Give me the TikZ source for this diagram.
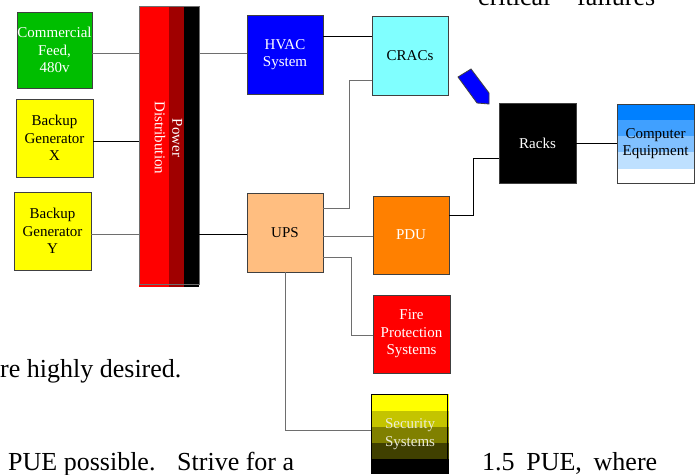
\documentclass[tikz,border=0pt]{standalone}
\usepackage{fontspec}
\setmainfont{Liberation Serif}
\definecolor{cgreen}{RGB}{0,190,0}
\definecolor{cyellow}{RGB}{255,255,0}
\definecolor{cred}{RGB}{255,0,0}
\definecolor{cdred}{RGB}{160,0,0}
\definecolor{cblue}{RGB}{0,0,255}
\definecolor{ccyan}{RGB}{128,255,255}
\definecolor{cups}{RGB}{255,190,128}
\definecolor{corange}{RGB}{255,128,0}
\definecolor{cborder}{RGB}{64,64,64}
\definecolor{cwire}{RGB}{110,110,110}
\definecolor{cb1}{RGB}{0,128,255}
\definecolor{cb2}{RGB}{64,160,255}
\definecolor{cb3}{RGB}{128,192,255}
\definecolor{cb4}{RGB}{190,224,255}
\definecolor{cy2}{RGB}{196,196,0}
\definecolor{cy3}{RGB}{128,128,0}
\definecolor{cy4}{RGB}{64,64,0}
\definecolor{csec}{RGB}{235,235,215}
\begin{document}
\begin{tikzpicture}[x=1pt,y=-1pt,
  box/.style={draw=cborder, line width=0.8pt, inner sep=0pt, align=center,
    font=\fontsize{15}{17.5}\selectfont},
  wire/.style={draw=cwire, line width=1pt},
  wireb/.style={draw=black, line width=0.9pt},
  body/.style={font=\fontsize{26}{30}\selectfont, inner sep=0pt, anchor=base west}]
\useasboundingbox (0,0) rectangle (695,474);

% body text fragments
\node[body] (t1) at (478,5) {critical};
\node[body] (t2) at (577,5) {failures};
\node[body] (t3) at (0,377) {re highly desired.};
\node[body] (t4) at (8,470) {PUE possible.};
\node[body] (t4b) at (177,470) {Strive for a};
\node[body] (t5) at (482,470) {1.5\hspace{0.45em}PUE,\hspace{0.45em}where};

% left sources
\node[box, fill=cgreen, text=white, minimum width=75pt, minimum height=76pt] (cf) at (54.5,50) {Commercial\\Feed,\\480v};
\node[box, fill=cyellow, minimum width=77pt, minimum height=78pt] (gx) at (54.5,138) {Backup\\Generator\\X};
\node[box, fill=cyellow, minimum width=77pt, minimum height=78pt] (gy) at (52.5,231) {Backup\\Generator\\Y};

% power distribution bar
\fill[cred] (139,6) rectangle (169,287);
\fill[cdred] (169,6) rectangle (184,287);
\fill[black] (184,6) rectangle (199,287);
\draw[cwire, line width=0.8pt] (139,6) rectangle (199,284);
\node[inner sep=0pt, minimum width=60pt, minimum height=278pt] (pd) at (169,145) {};
\node[rotate=-90, align=center, text=white, font=\fontsize{15}{17.5}\selectfont] (pdt) at (168.5,138) {Power\\Distribution};

% middle column
\node[box, fill=cblue, text=white, minimum width=76pt, minimum height=79pt] (hvac) at (285,54.5) {HVAC\\System};
\node[box, fill=ccyan, minimum width=76pt, minimum height=79pt] (crac) at (410,55.5) {CRACs};
\node[box, fill=cups, minimum width=76pt, minimum height=79pt] (ups) at (285,232.5) {UPS};
\node[box, fill=corange, text=white, minimum width=76pt, minimum height=78pt] (pdu) at (411,235) {PDU};
\node[box, fill=cred, text=white, minimum width=77pt, minimum height=78pt] (fire) at (411.5,334) {Fire\\Protection\\Systems};

% security systems (banded)
\fill[cyellow] (371,394) rectangle (449,411);
\fill[cy2] (371,411) rectangle (449,427);
\fill[cy3] (371,427) rectangle (449,443);
\fill[cy4] (371,443) rectangle (449,459);
\fill[black] (371,459) rectangle (449,474);
\draw[black, line width=0.8pt] (371.5,459) -- (371.5,394.5) -- (447.5,394.5) -- (447.5,459);
\node[inner sep=0pt, align=center, text=csec, font=\fontsize{15}{17.5}\selectfont, minimum width=78pt, minimum height=80pt] (sec) at (410,434) {Security\\Systems};

% racks and computer equipment
\node[box, fill=black, text=white, minimum width=77pt, minimum height=80pt] (racks) at (537.5,143) {Racks};
\fill[cb1] (617,104) rectangle (694,120);
\fill[cb2] (617,120) rectangle (694,136);
\fill[cb3] (617,136) rectangle (694,152);
\fill[cb4] (617,152) rectangle (694,169);
\node[box, minimum width=77pt, minimum height=79pt] (comp) at (655.5,143.5) {Computer\\Equipment};

% blue arrow marker
\draw[fill=cblue, draw=cborder, line width=0.8pt] (458,77) -- (471,69) -- (489,93) -- (489,104) -- (477,103) -- cycle;

% connectors
\draw[wire] (cf.east |- 0,53) -- (pd.west |- 0,53);
\draw[wireb] (gx.east |- 0,141) -- (pd.west |- 0,141);
\draw[wire] (gy.east |- 0,234) -- (pd.west |- 0,234);
\draw[wire] (pd.east |- 0,53) -- (hvac.west |- 0,53);
\draw[wireb] (pd.east |- 0,234) -- (ups.west |- 0,234);
\draw[wireb] (hvac.east |- 0,36) -- (crac.west |- 0,36);
\draw[wire] (ups.east |- 0,208) -| (349,80.5) -- (crac.west |- 0,80.5);
\draw[wire] (ups.east |- 0,236) -- (pdu.west |- 0,236);
\draw[wire] (ups.east |- 0,257) -| (351,335) -- (fire.west |- 0,335);
\draw[wire] (ups.south) |- (sec.west |- 0,430);
\draw[wireb] (pdu.east |- 0,215) -| (473,158) -- (racks.west |- 0,158);
\draw[wireb] (racks.east |- 0,143) -- (comp.west |- 0,143);
\end{tikzpicture}
\end{document}
